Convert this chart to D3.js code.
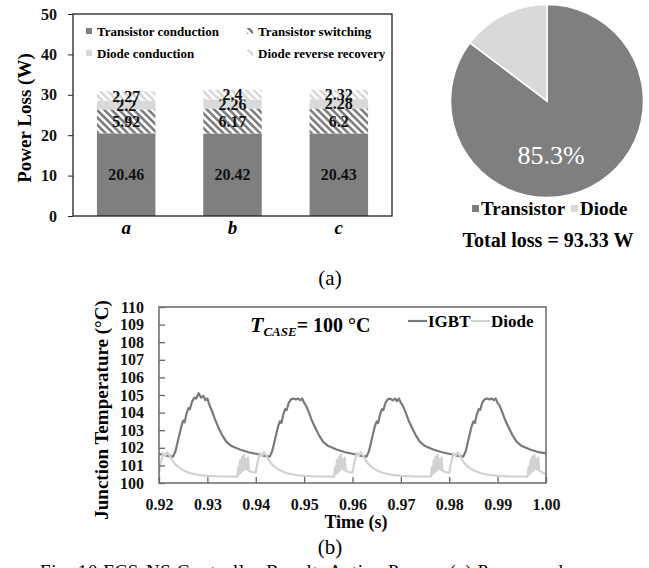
<!DOCTYPE html>
<html>
<head>
<meta charset="utf-8">
<script src="https://cdn.jsdelivr.net/npm/d3@7"></script>
<style>
body { margin: 0; background: #fff; }
</style>
</head>
<body>
<svg id="chart" width="649" height="568"></svg>
<script>
// ---- data: (a) power loss bars ----
var categories = ["a", "b", "c"];
var lossKeys = ["Transistor conduction", "Transistor switching", "Diode conduction", "Diode reverse recovery"];
var transistorConduction = [20.46, 20.42, 20.43];
var transistorSwitching = [5.92, 6.17, 6.2];
var diodeConduction = [2.2, 2.26, 2.28];
var diodeRecovery = [2.27, 2.4, 2.32];
var lossTicks = [0, 10, 20, 30, 40, 50];

// ---- data: (a) pie ----
var pieLabels = ["Transistor", "Diode"];
var pieShares = [85.3, 14.7];
var totalLoss = 93.33;

// ---- data: (b) junction temperature ----
var tempTicks = [100, 101, 102, 103, 104, 105, 106, 107, 108, 109, 110];
var timeTicks = [0.92, 0.93, 0.94, 0.95, 0.96, 0.97, 0.98, 0.99, 1.00];
var igbtTemp = [
  [0.9200,101.65],[0.9215,101.56],[0.9229,101.5],[0.9234,101.8],[0.9240,102.5],[0.9246,103.2],[0.9250,103.55],
  [0.9253,103.45],[0.9257,103.95],[0.9261,104.25],[0.9264,104.2],[0.9268,104.6],[0.9273,104.85],[0.9277,104.8],
  [0.9282,105.1],[0.9287,104.85],[0.9292,104.95],[0.9296,104.7],[0.9300,104.8],[0.9304,104.45],[0.9310,104.05],
  [0.9316,103.6],[0.9322,103.2],[0.9330,102.75],[0.9339,102.35],[0.9350,102.1],[0.9367,101.9],[0.9385,101.75],
  [0.9400,101.66],[0.9415,101.56],[0.9429,101.5],[0.9434,101.8],[0.9440,102.5],[0.9446,103.2],[0.9450,103.5],
  [0.9453,103.4],[0.9457,103.9],[0.9461,104.2],[0.9464,104.15],[0.9468,104.55],[0.9473,104.75],[0.9478,104.8],
  [0.9483,104.75],[0.9488,104.8],[0.9492,104.7],[0.9496,104.8],[0.9500,104.55],[0.9504,104.4],[0.9510,104.0],
  [0.9516,103.55],[0.9522,103.2],[0.9530,102.75],[0.9539,102.35],[0.9550,102.1],[0.9567,101.9],[0.9585,101.75],
  [0.9600,101.66],[0.9615,101.56],[0.9629,101.5],[0.9634,101.8],[0.9640,102.5],[0.9646,103.2],[0.9650,103.5],
  [0.9653,103.4],[0.9657,103.9],[0.9661,104.2],[0.9664,104.15],[0.9668,104.55],[0.9673,104.75],[0.9678,104.8],
  [0.9683,104.7],[0.9688,104.8],[0.9692,104.65],[0.9696,104.8],[0.9700,104.55],[0.9704,104.4],[0.9710,104.0],
  [0.9716,103.55],[0.9722,103.2],[0.9730,102.75],[0.9739,102.35],[0.9750,102.1],[0.9767,101.9],[0.9785,101.75],
  [0.9800,101.66],[0.9815,101.56],[0.9829,101.5],[0.9834,101.8],[0.9840,102.5],[0.9846,103.2],[0.9850,103.5],
  [0.9853,103.4],[0.9857,103.9],[0.9861,104.2],[0.9864,104.15],[0.9868,104.55],[0.9873,104.75],[0.9878,104.8],
  [0.9883,104.75],[0.9888,104.8],[0.9892,104.7],[0.9896,104.8],[0.9900,104.55],[0.9904,104.4],[0.9910,104.0],
  [0.9916,103.55],[0.9922,103.2],[0.9930,102.75],[0.9939,102.35],[0.9950,102.1],[0.9967,101.9],[0.9985,101.75],
  [1.0000,101.68]
];
var diodeTemp = [
  [0.9200,100.6],[0.9204,101.2],[0.9209,101.7],[0.9213,101.55],[0.9217,101.75],[0.9221,101.6],[0.9226,101.35],
  [0.9232,101.1],[0.9240,100.9],[0.9250,100.72],[0.9263,100.57],[0.9280,100.47],[0.9300,100.41],[0.9330,100.37],
  [0.9362,100.36],[0.9364,100.9],[0.9366,100.5],[0.9368,101.3],[0.9370,100.6],[0.9372,101.5],[0.9374,100.7],
  [0.9376,101.6],[0.9378,100.8],[0.9380,101.35],[0.9382,100.75],[0.9384,101.45],[0.9386,100.7],[0.9392,100.62],
  [0.9400,100.6],[0.9404,101.2],[0.9409,101.7],[0.9413,101.55],[0.9417,101.75],[0.9421,101.6],[0.9426,101.35],
  [0.9432,101.1],[0.9440,100.9],[0.9450,100.72],[0.9463,100.57],[0.9480,100.47],[0.9500,100.41],[0.9530,100.37],
  [0.9562,100.36],[0.9564,100.9],[0.9566,100.5],[0.9568,101.3],[0.9570,100.6],[0.9572,101.5],[0.9574,100.7],
  [0.9576,101.6],[0.9578,100.8],[0.9580,101.35],[0.9582,100.75],[0.9584,101.45],[0.9586,100.7],[0.9592,100.62],
  [0.9600,100.6],[0.9604,101.2],[0.9609,101.7],[0.9613,101.55],[0.9617,101.75],[0.9621,101.6],[0.9626,101.35],
  [0.9632,101.1],[0.9640,100.9],[0.9650,100.72],[0.9663,100.57],[0.9680,100.47],[0.9700,100.41],[0.9730,100.37],
  [0.9762,100.36],[0.9764,100.9],[0.9766,100.5],[0.9768,101.3],[0.9770,100.6],[0.9772,101.5],[0.9774,100.7],
  [0.9776,101.6],[0.9778,100.8],[0.9780,101.35],[0.9782,100.75],[0.9784,101.45],[0.9786,100.7],[0.9792,100.62],
  [0.9800,100.6],[0.9804,101.2],[0.9809,101.7],[0.9813,101.55],[0.9817,101.75],[0.9821,101.6],[0.9826,101.35],
  [0.9832,101.1],[0.9840,100.9],[0.9850,100.72],[0.9863,100.57],[0.9880,100.47],[0.9900,100.41],[0.9930,100.37],
  [0.9962,100.36],[0.9964,100.9],[0.9966,100.5],[0.9968,101.3],[0.9970,100.6],[0.9972,101.5],[0.9974,100.7],
  [0.9976,101.6],[0.9978,100.8],[0.9980,101.35],[0.9982,100.75],[0.9984,101.45],[0.9986,100.7],[0.9993,100.58],
  [1.0000,100.5]
];

var serif = "'Liberation Serif', 'Times New Roman', serif";
var dark = "#7f7f7f", light = "#d9d9d9";
var svg = d3.select("#chart");

function txt(sel, size, bold) {
  return sel.style("font-family", serif)
    .style("font-size", size + "px")
    .style("font-weight", bold ? "bold" : "normal");
}

// hatch patterns
var defs = svg.append("defs");
[["hatchDark", dark], ["hatchLight", light]].forEach(function(p) {
  var pat = defs.append("pattern")
      .attr("id", p[0])
      .attr("patternUnits", "userSpaceOnUse")
      .attr("width", 5.2).attr("height", 10)
      .attr("patternTransform", "rotate(-45)");
  pat.append("rect").attr("width", 5.2).attr("height", 10).attr("fill", "#fff");
  pat.append("rect").attr("width", 2.6).attr("height", 10).attr("fill", p[1]);
});
var fills = [dark, "url(#hatchDark)", light, "url(#hatchLight)"];

// ================= (a) stacked bars =================
var bx = d3.scaleBand().domain(categories).range([73, 392]).paddingInner(0.45).paddingOuter(0.225);
var by = d3.scaleLinear().domain([0, 50]).range([216, 14]);

var rows = categories.map(function(c, i) {
  var r = { cat: c };
  r[lossKeys[0]] = transistorConduction[i];
  r[lossKeys[1]] = transistorSwitching[i];
  r[lossKeys[2]] = diodeConduction[i];
  r[lossKeys[3]] = diodeRecovery[i];
  return r;
});
var stacked = d3.stack().keys(lossKeys)(rows);

var layers = svg.append("g").selectAll("g")
  .data(stacked)
  .enter().append("g")
    .attr("fill", function(d, i) { return fills[i]; });

layers.selectAll("rect")
  .data(function(d) { return d; })
  .enter().append("rect")
    .attr("x", function(d) { return bx(d.data.cat); })
    .attr("y", function(d) { return by(d[1]); })
    .attr("width", bx.bandwidth())
    .attr("height", function(d) { return by(d[0]) - by(d[1]); });

txt(layers.selectAll("text")
  .data(function(d) { return d.map(function(s) { return { s: s, key: d.key }; }); })
  .enter().append("text")
    .attr("x", function(d) { return bx(d.s.data.cat) + bx.bandwidth() / 2; })
    .attr("y", function(d) { return (by(d.s[0]) + by(d.s[1])) / 2; })
    .attr("dy", "0.35em")
    .attr("text-anchor", "middle")
    .attr("fill", "#111"), 16, true)
    .text(function(d) { return d.s.data[d.key]; });

// frame + axis
svg.append("rect")
  .attr("x", 73).attr("y", 14).attr("width", 319).attr("height", 202)
  .attr("fill", "none").attr("stroke", "#222").attr("stroke-width", 1.3);

var yAxisA = svg.append("g")
  .attr("transform", "translate(73,0)")
  .call(d3.axisLeft(by).tickValues(lossTicks).tickSize(5).tickPadding(11).tickSizeOuter(0));
yAxisA.select(".domain").remove();
yAxisA.selectAll("line").attr("stroke", "#222");
txt(yAxisA.selectAll("text"), 16, true).attr("fill", "#111");

txt(svg.append("g").selectAll("text")
  .data(categories)
  .enter().append("text")
    .attr("x", function(d) { return bx(d) + bx.bandwidth() / 2; })
    .attr("y", 234)
    .attr("text-anchor", "middle"), 19, true)
    .style("font-style", "italic")
    .text(function(d) { return d; });

txt(svg.append("text")
  .attr("transform", "rotate(-90)")
  .attr("x", -118).attr("y", 31)
  .attr("text-anchor", "middle"), 19, true)
  .text("Power Loss (W)");

// legend inside bar frame
var legPos = [[86, 36], [247, 36], [86, 58], [247, 58]];
var leg = svg.append("g").selectAll("g")
  .data(lossKeys)
  .enter().append("g")
    .attr("transform", function(d, i) { return "translate(" + legPos[i][0] + "," + legPos[i][1] + ")"; });
leg.append("rect")
  .attr("x", 0).attr("y", -8).attr("width", 6).attr("height", 6)
  .attr("fill", function(d, i) { return fills[i]; });
txt(leg.append("text").attr("x", 11).attr("y", 0), 13, true)
  .text(function(d) { return d; });

// ================= (a) pie =================
var pie = d3.pie().sort(null).value(function(d) { return d; });
var arc = d3.arc().innerRadius(0).outerRadius(96.5);
var pg = svg.append("g").attr("transform", "translate(547,101)");
pg.selectAll("path")
  .data(pie(pieShares))
  .enter().append("path")
    .attr("d", arc)
    .attr("fill", function(d, i) { return i === 0 ? dark : light; })
    .attr("stroke", "#fff").attr("stroke-width", 1.5);
txt(pg.append("text")
  .attr("x", 4).attr("y", 63)
  .attr("text-anchor", "middle")
  .attr("fill", "#fff"), 26, false)
  .text(pieShares[0] + "%");

var pieLegX = [472, 571];
var pl = svg.append("g").selectAll("g")
  .data(pieLabels)
  .enter().append("g")
    .attr("transform", function(d, i) { return "translate(" + pieLegX[i] + ",215)"; });
pl.append("rect")
  .attr("x", 0).attr("y", -10).attr("width", 7).attr("height", 7)
  .attr("fill", function(d, i) { return i === 0 ? dark : light; });
txt(pl.append("text").attr("x", 9).attr("y", 0), 19, true)
  .text(function(d) { return d; });

txt(svg.append("text")
  .attr("x", 548).attr("y", 247)
  .attr("text-anchor", "middle"), 20, true)
  .text("Total loss = " + totalLoss + " W");

txt(svg.append("text")
  .attr("x", 330).attr("y", 285)
  .attr("text-anchor", "middle"), 21, false)
  .text("(a)");

// ================= (b) junction temperature =================
var lx = d3.scaleLinear().domain([0.92, 1.0]).range([159, 546]);
var ly = d3.scaleLinear().domain([100, 110]).range([483, 307]);

svg.append("clipPath").attr("id", "clipB")
  .append("rect").attr("x", 159).attr("y", 307).attr("width", 387).attr("height", 176);

var line = d3.line()
  .x(function(d) { return lx(d[0]); })
  .y(function(d) { return ly(d[1]); });

var lg = svg.append("g").attr("clip-path", "url(#clipB)");
lg.append("path").datum(igbtTemp)
  .attr("d", line).attr("fill", "none").attr("stroke", "#7a7a7a").attr("stroke-width", 2.2)
  .attr("stroke-linejoin", "round");
lg.append("path").datum(diodeTemp)
  .attr("d", line).attr("fill", "none").attr("stroke", "#d2d2d2").attr("stroke-width", 2.2)
  .attr("stroke-linejoin", "round");

var xAxisB = svg.append("g")
  .attr("transform", "translate(0,483)")
  .call(d3.axisBottom(lx).tickValues(timeTicks).tickFormat(d3.format(".2f")).tickSize(-6).tickPadding(16).tickSizeOuter(0));
var yAxisB = svg.append("g")
  .attr("transform", "translate(159,0)")
  .call(d3.axisLeft(ly).tickValues(tempTicks).tickFormat(d3.format("d")).tickSize(-6).tickPadding(15).tickSizeOuter(0));
[xAxisB, yAxisB].forEach(function(a) {
  a.select(".domain").remove();
  a.selectAll("line").attr("stroke", "#666").attr("stroke-width", 1.3);
  txt(a.selectAll("text"), 16, true).attr("fill", "#111");
});

svg.append("rect")
  .attr("x", 159).attr("y", 307).attr("width", 387).attr("height", 176)
  .attr("fill", "none").attr("stroke", "#6a6a6a").attr("stroke-width", 1.5);

txt(svg.append("text")
  .attr("transform", "rotate(-90)")
  .attr("x", -410).attr("y", 108)
  .attr("text-anchor", "middle"), 19, true)
  .text("Junction Temperature (°C)");

txt(svg.append("text")
  .attr("x", 356).attr("y", 528)
  .attr("text-anchor", "middle"), 18, true)
  .text("Time (s)");

var tcase = txt(svg.append("text").attr("x", 250).attr("y", 332), 20, true);
tcase.append("tspan").style("font-style", "italic").style("font-size", "22px").text("T");
tcase.append("tspan").style("font-style", "italic").style("font-size", "13px").attr("dy", 4).text("CASE");
tcase.append("tspan").style("font-size", "20px").attr("dy", -4).text("= 100 °C");

var seriesB = [["IGBT", "#7a7a7a", 408], ["Diode", "#d2d2d2", 471]];
var lgb = svg.append("g").selectAll("g")
  .data(seriesB)
  .enter().append("g")
    .attr("transform", function(d) { return "translate(" + d[2] + ",327)"; });
lgb.append("line")
  .attr("x1", 0).attr("x2", 19).attr("y1", -6).attr("y2", -6)
  .attr("stroke", function(d) { return d[1]; }).attr("stroke-width", 2.2);
txt(lgb.append("text").attr("x", 20).attr("y", 0), 17, true)
  .text(function(d) { return d[0]; });

txt(svg.append("text")
  .attr("x", 330).attr("y", 554)
  .attr("text-anchor", "middle"), 21, false)
  .text("(b)");

txt(svg.append("text")
  .attr("x", 40).attr("y", 578)
  .attr("textLength", 523), 19, false)
  .text("Fig. 10 FCS-NS Controller Result: Active Power. (a) Power and");
</script>
</body>
</html>
